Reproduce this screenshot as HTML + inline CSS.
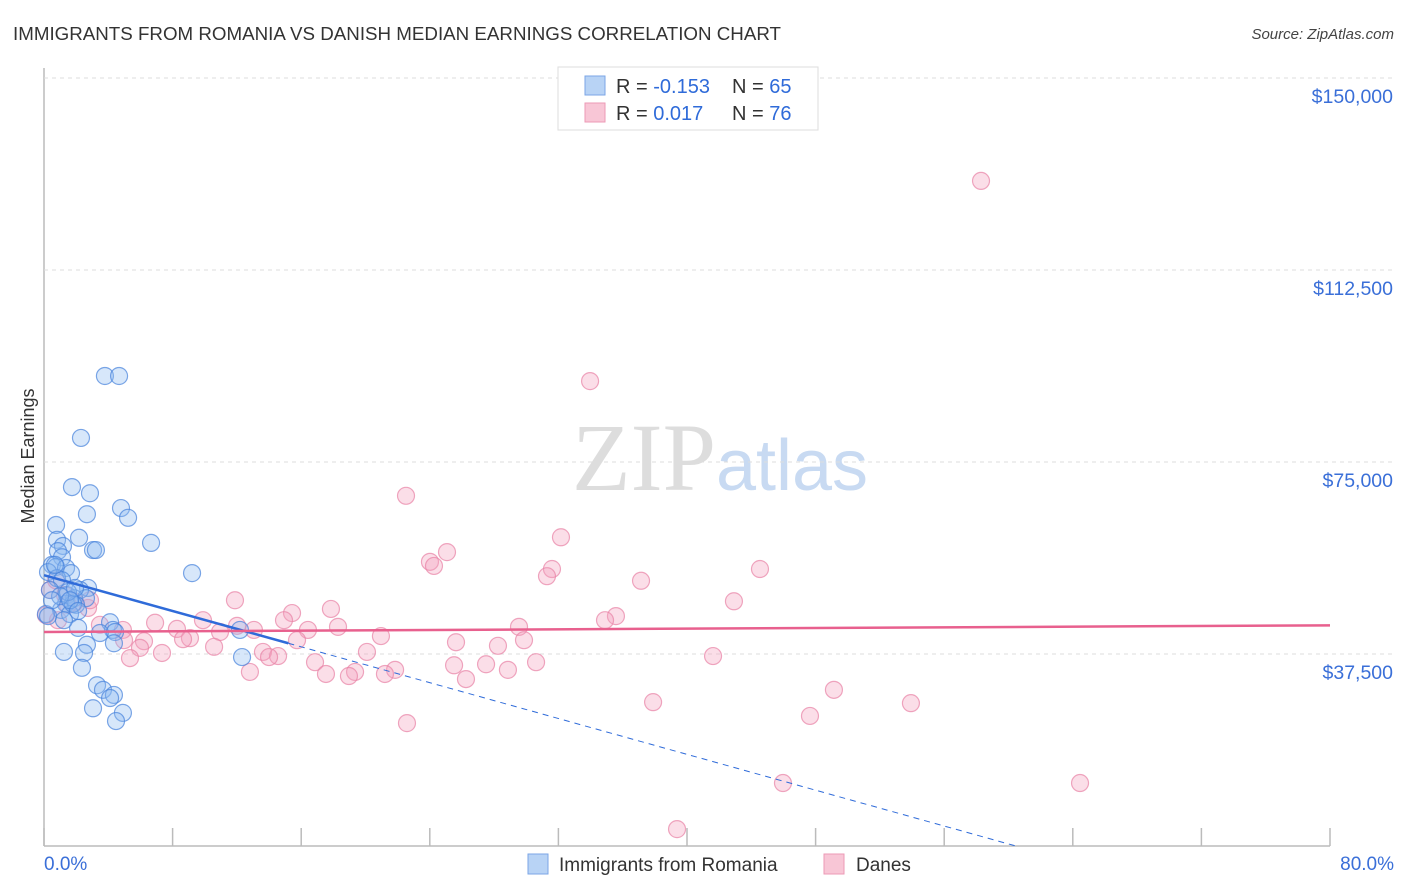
<!DOCTYPE html>
<html><head><meta charset="utf-8"><style>
body{margin:0;background:#fff;font-family:"Liberation Sans",sans-serif;}
svg{display:block}
</style></head><body>
<svg id="chart" width="1406" height="892" xmlns="http://www.w3.org/2000/svg">
<text x="13" y="40" font-size="18" fill="#333" textLength="768" lengthAdjust="spacingAndGlyphs" font-family="Liberation Sans,sans-serif">IMMIGRANTS FROM ROMANIA VS DANISH MEDIAN EARNINGS CORRELATION CHART</text>
<text x="1394" y="39" font-size="15" fill="#444" text-anchor="end" font-style="italic">Source: ZipAtlas.com</text>
<text x="720" y="490" font-size="96" text-anchor="middle"><tspan fill="#ddd" font-family="Liberation Serif,serif">ZIP</tspan><tspan fill="#c8daf2" font-size="72" font-family="Liberation Sans,sans-serif">atlas</tspan></text>
<text transform="translate(34,456) rotate(-90)" font-size="18" fill="#333" text-anchor="middle">Median Earnings</text>
<g id="grid"></g>
<g id="marks"></g>
<g>
<rect x="558" y="67" width="260" height="63" fill="#fff" stroke="#ddd"/>
<rect x="585" y="76" width="20" height="19" fill="#b8d3f5" stroke="#7ba6e6"/>
<rect x="585" y="103" width="20" height="19" fill="#f8c6d6" stroke="#ec9ab6"/>
<text x="616" y="93" font-size="20" fill="#333">R = <tspan fill="#2f6bd9">-0.153</tspan></text>
<text x="732" y="93" font-size="20" fill="#333">N = <tspan fill="#2f6bd9">65</tspan></text>
<text x="616" y="120" font-size="20" fill="#333">R = <tspan fill="#2f6bd9"> 0.017</tspan></text>
<text x="732" y="120" font-size="20" fill="#333">N = <tspan fill="#2f6bd9">76</tspan></text>
</g>
<g>
<rect x="528" y="854" width="20" height="20" fill="#b8d3f5" stroke="#7ba6e6"/>
<text x="559" y="871" font-size="19" fill="#333">Immigrants from Romania</text>
<rect x="824" y="854" width="20" height="20" fill="#f8c6d6" stroke="#ec9ab6"/>
<text x="856" y="871" font-size="19" fill="#333">Danes</text>
</g>
<text x="44" y="870" font-size="19" fill="#3a6fd8">0.0%</text>
<text x="1394" y="870" font-size="19" fill="#3a6fd8" text-anchor="end">80.0%</text>
</svg>
<script>
const yTicks=[37500,75000,112500,150000];
const yTickLabels=["$37,500","$75,000","$112,500","$150,000"];
const xTicks=[0,8,16,24,32,40,48,56,64,72,80];
const blueX=[3.79,4.67,2.30,1.74,2.86,2.67,4.79,5.23,0.75,6.66,2.18,0.81,3.05,3.23,1.18,0.87,1.12,9.21,0.50,0.75,1.37,1.68,0.25,0.81,1.12,2.74,2.24,0.37,1.43,1.87,2.61,1.37,1.99,1.06,1.62,0.12,2.12,4.11,4.29,3.48,4.42,12.19,2.67,4.35,1.24,2.49,12.32,2.36,3.30,3.67,4.35,4.11,3.05,4.91,4.48,1.80,1.49,1.00,1.93,1.62,0.68,2.12,1.24,0.50,0.25];
const blueY=[91800,91800,79700,70100,68900,64800,66000,64100,62700,59200,60200,59800,57800,57800,58600,57600,56400,53300,54900,54500,54300,53300,53500,52300,51900,50400,50000,50000,49000,48400,48400,47300,47100,46100,45300,45300,42600,43700,42200,41600,41800,42200,39300,39600,37900,37700,36900,34800,31400,30500,29500,28900,26900,26000,24400,47300,49600,48800,50400,48000,54900,45900,44100,48000,44900];
const pinkX=[58.29,33.97,22.52,32.16,25.07,24.01,24.26,31.60,31.29,37.14,44.54,11.88,42.92,15.43,17.85,14.93,35.58,34.90,9.89,29.55,12.01,10.95,13.06,16.42,18.29,20.96,8.27,6.91,4.91,3.48,4.98,6.22,9.08,8.65,10.58,15.74,25.63,28.24,29.86,20.09,7.34,5.97,5.35,13.62,14.56,14.00,16.86,25.51,27.50,30.61,21.84,21.21,19.35,18.97,17.54,12.81,26.25,28.86,41.62,49.14,37.89,53.93,47.65,22.58,45.97,64.45,39.38,0.37,1.31,0.75,2.74,1.93,0.87,1.49,0.12,2.86];
const pinkY=[129900,90800,68400,60300,57400,55500,54700,54100,52700,51800,54100,48000,47800,45500,46300,44100,44900,44100,44100,42800,43000,41800,42200,42200,42800,41000,42400,43600,42200,43200,40200,40000,40600,40400,38900,40200,39800,39100,40200,37900,37700,38700,36700,37900,37100,36900,35900,35300,35500,35900,34400,33600,34000,33200,33600,34000,32600,34400,37100,30500,28100,27900,25400,24000,12300,12300,3300,50000,49000,51900,46500,47700,44100,47100,45100,48000];
const blueTrend=[52900,-875];
const pinkTrend=[41800,16.25];

const NS="http://www.w3.org/2000/svg";
const X=v=>44+v*16.075;
const Y=v=>846-v*0.00512;
function mk(tag,attrs,parent){const e=document.createElementNS(NS,tag);for(const k in attrs)e.setAttribute(k,attrs[k]);parent.appendChild(e);return e;}
const grid=document.getElementById('grid'),marks=document.getElementById('marks');
mk('line',{x1:44,y1:68,x2:44,y2:846,stroke:'#bbb','stroke-width':1.5},grid);
mk('line',{x1:44,y1:846,x2:1330,y2:846,stroke:'#bbb','stroke-width':1.5},grid);
yTicks.forEach((t,i)=>{
  const l=mk('line',{x1:44,y1:Y(t),x2:1395,y2:Y(t),stroke:'#ddd','stroke-dasharray':'4,4'},grid);
  
  
  const tx=mk('text',{x:1393,y:Y(t)+25,'font-size':19.5,fill:'#3a6fd8','text-anchor':'end'},grid);
  tx.textContent=yTickLabels[i];
  
  
});
xTicks.forEach(t=>{
  const l=mk('line',{x1:X(t),y1:828,x2:X(t),y2:846,stroke:'#bbb','stroke-width':1.5},grid);
  
  
});
pinkX.forEach((x,i)=>{
  const c=mk('circle',{cx:X(x),cy:Y(pinkY[i]),r:8.5,fill:'rgba(244,160,190,0.35)',stroke:'rgba(232,130,165,0.7)','stroke-width':1.2},marks);
  
  
});
blueX.forEach((x,i)=>{
  const c=mk('circle',{cx:X(x),cy:Y(blueY[i]),r:8.5,fill:'rgba(140,185,240,0.35)',stroke:'rgba(70,130,220,0.7)','stroke-width':1.2},marks);
  
  
});
const bz=-blueTrend[0]/blueTrend[1];
let l1=mk('line',{x1:X(0),y1:Y(blueTrend[0]),x2:X(15.2),y2:Y(blueTrend[0]+blueTrend[1]*15.2),stroke:'#2f6bd9','stroke-width':2.5},marks);


let l2=mk('line',{x1:X(15.2),y1:Y(blueTrend[0]+blueTrend[1]*15.2),x2:X(bz),y2:Y(0),stroke:'#2f6bd9','stroke-width':1,'stroke-dasharray':'6,5'},marks);


let l3=mk('line',{x1:X(0),y1:Y(pinkTrend[0]),x2:X(80),y2:Y(pinkTrend[0]+pinkTrend[1]*80),stroke:'#e8608e','stroke-width':2.5},marks);


</script>
</body></html>
